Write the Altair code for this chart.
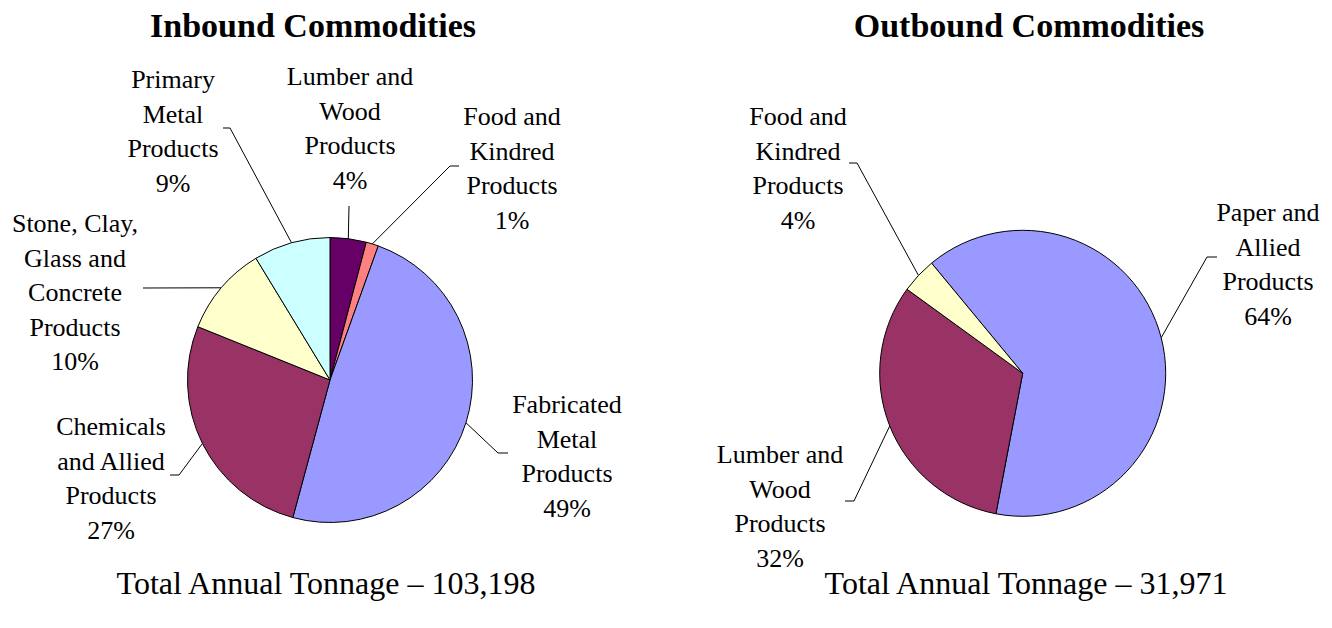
import math
import altair as alt
import pandas as pd

# ---------------- data ----------------
in_cats = [
    "Lumber and Wood Products",
    "Food and Kindred Products",
    "Fabricated Metal Products",
    "Chemicals and Allied Products",
    "Stone, Clay, Glass and Concrete Products",
    "Primary Metal Products",
]
in_vals = [4.1, 1.4, 48.7, 26.9, 10.2, 8.7]
in_total = "103,198"

out_cats = [
    "Paper and Allied Products",
    "Lumber and Wood Products",
    "Food and Kindred Products",
]
out_vals = [64.0, 32.0, 4.0]
out_total = "31,971"

# ---------------- styling / layout ----------------
in_colors = ["#660066", "#FF8080", "#9999FF", "#993366", "#FFFFCC", "#CCFFFF"]
out_colors = ["#9999FF", "#993366", "#FFFFCC"]

in_wrapped = ["Lumber and\nWood\nProducts", "Food and\nKindred\nProducts",
              "Fabricated\nMetal\nProducts", "Chemicals\nand Allied\nProducts",
              "Stone, Clay,\nGlass and\nConcrete\nProducts", "Primary\nMetal\nProducts"]
out_wrapped = ["Paper and\nAllied\nProducts", "Lumber and\nWood\nProducts",
               "Food and\nKindred\nProducts"]

# label anchors (centre of first line), leader bend points and leader tick ends (pixels)
in_lx = [342, 504, 559, 103, 67, 165]
in_ly = [69, 109, 397, 419, 216, 72]
in_bx = [341, 442, 490, 171, 135, 222]
in_by = [198, 158, 445, 467, 280, 120]
in_tx = [341, 451, 500, 162, 135, 215]

out_lx = [1260, 772, 790]
out_ly = [205, 447, 109]
out_bx = [1199, 846, 849]
out_by = [249, 493, 155]
out_tx = [1209, 837, 841]

FONT = "Liberation Serif"
LABEL_SIZE = 26
LINE_H = 34.5


def pie(cats, vals, colors, wrapped, lx, ly, bx, by, tx, cx, cy, r, start_deg):
    df = pd.DataFrame({
        "idx": list(range(len(cats))), "cat": cats, "value": vals, "color": colors,
        "wrapped": wrapped, "lx": lx, "ly": ly, "bx": bx, "by": by, "tx": tx,
    })
    a_start = math.radians(start_deg)
    base = (
        alt.Chart(df)
        .transform_joinaggregate(total="sum(value)")
        .transform_window(cum="sum(value)", sort=[alt.SortField("idx")], frame=[None, 0])
        .transform_calculate(a1=f"{a_start} + 2*PI*datum.cum/datum.total")
        .transform_calculate(a0=f"datum.a1 - 2*PI*datum.value/datum.total")
        .transform_calculate(mid="(datum.a0 + datum.a1)/2")
        .transform_calculate(ex=f"{cx} + {r}*sin(datum.mid)")
        .transform_calculate(ey=f"{cy} - {r}*cos(datum.mid)")
        .transform_calculate(
            label="datum.wrapped + '\\n' + format(datum.value/datum.total*100, '.0f') + '%'"
        )
    )
    arcs = base.mark_arc(stroke="black", strokeWidth=1).encode(
        theta=alt.Theta("a0:Q", scale=None),
        theta2="a1:Q",
        x=alt.value(cx),
        y=alt.value(cy),
        radius=alt.value(r),
        fill=alt.Fill("color:N", scale=None),
    )
    lead = base.mark_rule(color="black", strokeWidth=1).encode(
        x=alt.X("ex:Q", scale=None, axis=None),
        y=alt.Y("ey:Q", scale=None, axis=None),
        x2="bx:Q",
        y2="by:Q",
    )
    tick = base.mark_rule(color="black", strokeWidth=1).encode(
        x=alt.X("bx:Q", scale=None, axis=None),
        y=alt.Y("by:Q", scale=None, axis=None),
        x2="tx:Q",
        y2="by:Q",
    )
    labels = base.mark_text(
        font=FONT, fontSize=LABEL_SIZE, lineBreak="\n", lineHeight=LINE_H,
        align="center", baseline="middle", color="black",
    ).encode(
        x=alt.X("lx:Q", scale=None, axis=None),
        y=alt.Y("ly:Q", scale=None, axis=None),
        text="label:N",
    )
    return [lead, tick, arcs, labels]


def text_layer(txt, x, y, size, weight="normal"):
    return alt.Chart(pd.DataFrame({"t": [txt]})).mark_text(
        font=FONT, fontSize=size, fontWeight=weight, align="center",
        baseline="middle", color="black",
    ).encode(x=alt.value(x), y=alt.value(y), text="t:N")


layers = []
layers += pie(in_cats, in_vals, in_colors, in_wrapped, in_lx, in_ly, in_bx, in_by, in_tx,
              322, 372, 142.5, 0)
layers += pie(out_cats, out_vals, out_colors, out_wrapped, out_lx, out_ly, out_bx, out_by, out_tx,
              1014.7, 365.3, 143, 320.4)
layers.append(text_layer("Inbound Commodities", 305, 19, 34, "bold"))
layers.append(text_layer("Outbound Commodities", 1021, 19, 34, "bold"))
layers.append(text_layer("Total Annual Tonnage \u2013 " + in_total, 318, 576, 32))
layers.append(text_layer("Total Annual Tonnage \u2013 " + out_total, 1018, 576, 32))

chart = alt.layer(*layers).properties(
    width=1316, height=612, padding=0,
    autosize=alt.AutoSizeParams(type="none"),
).configure_view(stroke=None)

chart.save("out.html", embed_options={"renderer": "svg", "actions": False})
